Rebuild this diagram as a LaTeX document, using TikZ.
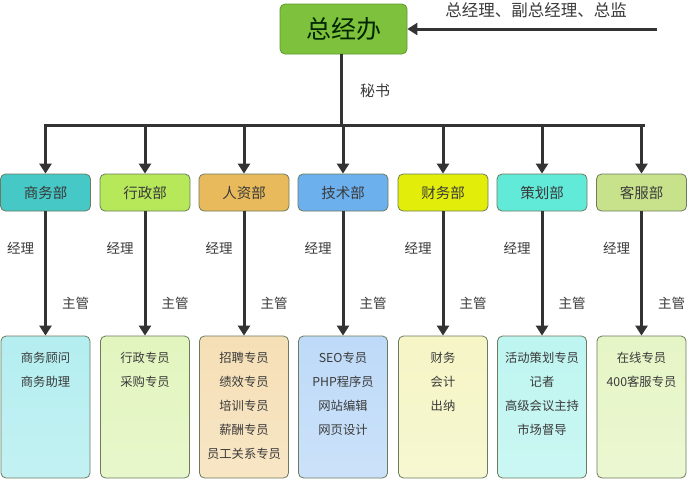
\documentclass[tikz,border=0pt]{standalone}
\usepackage{fontspec}
\setmainfont{Noto Sans CJK SC}
\usetikzlibrary{arrows.meta}
\definecolor{linec}{HTML}{333333}
\definecolor{txt}{HTML}{3A3A3A}
\definecolor{topf}{HTML}{7DC13C}
\definecolor{topd}{HTML}{5E9A2E}
\definecolor{bd}{HTML}{6B7B5E}
\definecolor{dA}{HTML}{45C8C6}
\definecolor{dB}{HTML}{B6E85A}
\definecolor{dC}{HTML}{E8BA5C}
\definecolor{dD}{HTML}{6CB0EE}
\definecolor{dE}{HTML}{E2EE0A}
\definecolor{dF}{HTML}{62EAD8}
\definecolor{dG}{HTML}{C8E28C}
\definecolor{lA}{HTML}{B4EEF0}
\definecolor{lB}{HTML}{E2F5BE}
\definecolor{lC}{HTML}{F5DFB6}
\definecolor{lD}{HTML}{BEDAF8}
\definecolor{lE}{HTML}{F5F5C6}
\definecolor{lF}{HTML}{BEF5F0}
\definecolor{lG}{HTML}{E6F5C6}
\tikzset{
  x=1pt, y=-1pt,
  conn/.style={draw=linec, line width=3pt, -{Triangle[width=12pt,length=10pt]}},
  plainline/.style={draw=linec, line width=3pt},
  deptbox/.style={draw=bd, line width=0.8pt, rounded corners=5pt, minimum width=90pt, minimum height=37pt, inner sep=0pt, text=txt, font=\fontsize{14.5}{16}\selectfont},
  leafbox/.style={draw=bd, line width=0.8pt, rounded corners=5pt, minimum width=89pt, minimum height=142pt, inner sep=0pt},
  leaftext/.style={anchor=north, align=center, inner sep=0pt, text=txt, font=\fontsize{12.3}{24}\selectfont},
  role/.style={inner sep=0pt, text=txt, font=\fontsize{13.5}{15}\selectfont},
}
\begin{document}
\begin{tikzpicture}
\useasboundingbox (0,0) rectangle (690,482);
% top
\node[draw=topd, fill=topf, line width=0.8pt, rounded corners=5pt, minimum width=127pt, minimum height=50pt, inner sep=0pt, text=black!85!green, font=\fontsize{25}{27}\selectfont] (top) at (343.5,29) {总经办};
\coordinate (src) at (657,29);
\draw[conn] (src) -- (top.east);
\node[role, font=\fontsize{16.5}{18}\selectfont] (toplab) at (536,10) {总经理、副总经理、总监};
\coordinate (bar) at (341,125);
\draw[plainline] (top.south -| bar) -- (bar);
\node[role, font=\fontsize{15}{17}\selectfont] (sec) at (375,91) {秘书};
\coordinate (barL) at (45,125);
\coordinate (barR) at (643,125);
\draw[plainline] ([xshift=-1.5pt]barL) -- ([xshift=1.5pt]barR);
% departments
\foreach \i/\x/\dc/\lc/\name in {1/45.5/dA/lA/商务部, 2/145/dB/lB/行政部, 3/244/dC/lC/人资部, 4/343/dD/lD/技术部, 5/443/dE/lE/财务部, 6/542/dF/lF/策划部, 7/641.5/dG/lG/客服部}{
  \node[deptbox, fill=\dc] (d\i) at (\x,192.5) {\name};
  \coordinate (b\i) at (\x,125);
  \draw[conn] (b\i) -- (d\i.north);
  \node[leafbox, top color=\lc, bottom color=\lc!80!white] (l\i) at (\x,407) {};
  \draw[conn] (d\i.south) -- (l\i.north);
  \node[role] (m\i) at (\x-25,248) {经理};
  \node[role] (s\i) at (\x+30,303) {主管};
}
\node[leaftext] (t1) at ([yshift=-16pt]l1.north) {商务顾问\\商务助理};
\node[leaftext] (t2) at ([yshift=-16pt]l2.north) {行政专员\\采购专员};
\node[leaftext] (t3) at ([yshift=-16pt]l3.north) {招聘专员\\绩效专员\\培训专员\\薪酬专员\\员工关系专员};
\node[leaftext] (t4) at ([yshift=-16pt]l4.north) {SEO专员\\PHP程序员\\网站编辑\\网页设计};
\node[leaftext] (t5) at ([yshift=-16pt]l5.north) {财务\\会计\\出纳};
\node[leaftext] (t6) at ([yshift=-16pt]l6.north) {活动策划专员\\记者\\高级会议主持\\市场督导};
\node[leaftext] (t7) at ([yshift=-16pt]l7.north) {在线专员\\400客服专员};
\end{tikzpicture}
\end{document}
